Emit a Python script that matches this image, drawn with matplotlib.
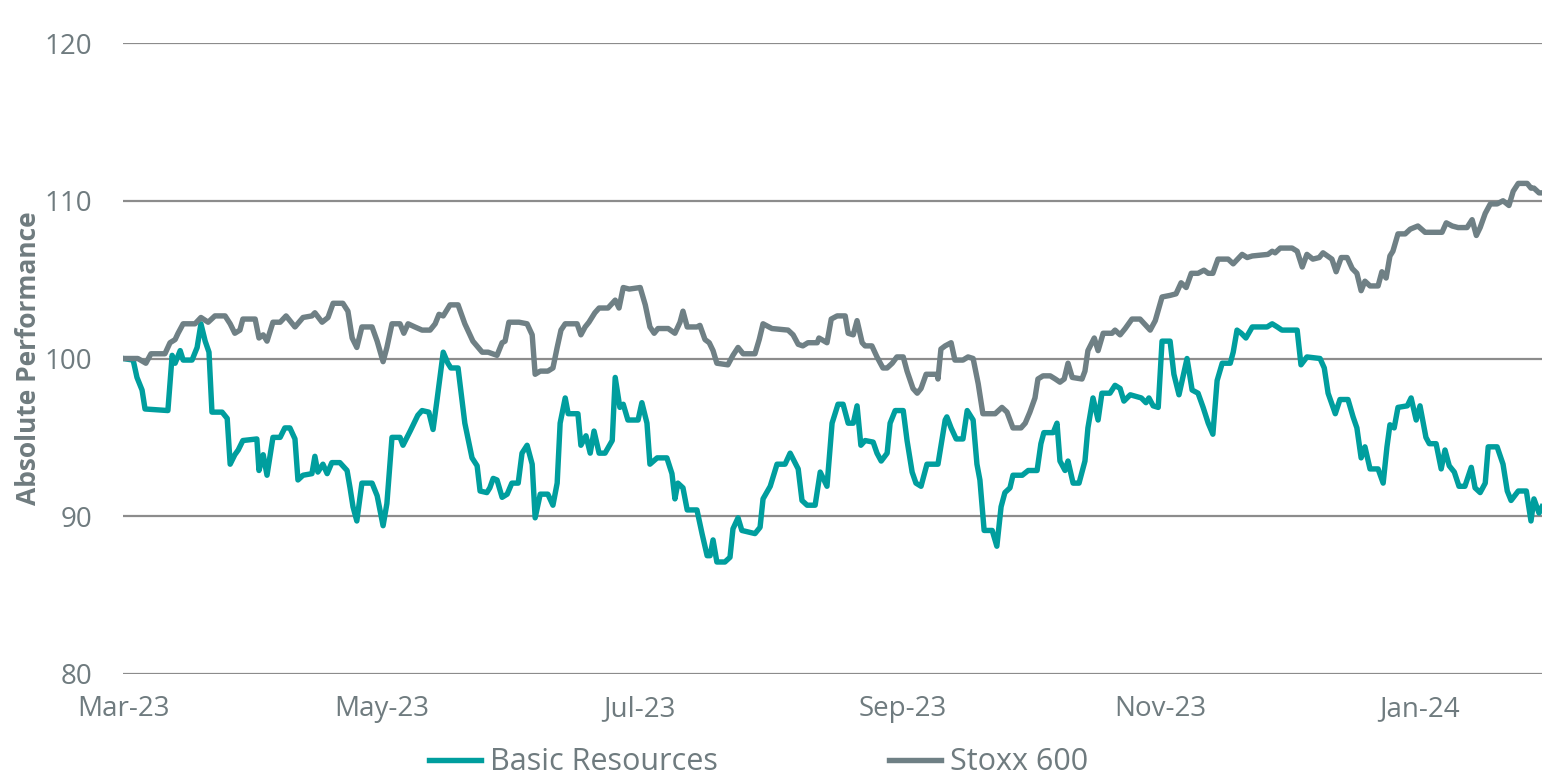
"""Basic Resources vs Stoxx 600, absolute performance (rebased to 100)."""

import pandas as pd
import matplotlib.pyplot as plt
import matplotlib.dates as mdates

START = pd.Timestamp("2023-03-01")

# days after START
basic_days = [
    0, 2.4, 3.3, 4.5, 5.2, 10.6, 11.6, 12.3, 13.5, 14.2, 16.3, 17.5, 18.4, 19.4,
    20.3, 21.0, 23.4, 24.6, 25.3, 26.4, 27.2, 28.3, 31.6, 32.1, 33.1, 34.0, 35.4,
    37.1, 38.2, 39.4, 40.6, 41.3, 42.5, 44.6, 45.3, 46.0, 47.2, 48.2, 49.3, 51.2,
    52.9, 53.6, 54.3, 55.2, 56.4, 58.8, 60.0, 61.4, 62.3, 63.5, 65.4, 66.1, 67.8,
    69.6, 70.6, 72.2, 73.2, 74.1, 75.6, 76.7, 77.4, 79.1, 80.7, 82.4, 83.6, 84.3,
    85.9, 86.6, 87.4, 88.3, 89.5, 90.7, 91.8, 93.3, 94.2, 95.4, 96.6, 97.3, 98.5,
    100.3, 101.5, 102.5, 103.2, 104.4, 105.1, 107.4, 108.1, 109.3, 110.3, 111.2,
    112.4, 113.8, 115.5, 116.2, 117.3, 118.1, 119.2, 121.6, 122.5, 123.7, 124.4,
    126.1, 128.4, 129.6, 130.3, 131.0, 132.2, 133.2, 135.5, 136.7, 137.9, 138.6,
    139.3, 140.2, 142.1, 143.3, 144.0, 145.2, 146.1, 149.2, 150.4, 151.1, 152.8,
    154.4, 156.3, 157.5, 159.4, 160.3, 161.5, 163.4, 164.6, 166.2, 167.4, 168.8,
    170.0, 171.2, 172.4, 173.3, 174.2, 175.2, 177.1, 178.0, 179.0, 180.4, 181.1,
    182.3, 184.2, 185.1, 186.3, 187.2, 188.4, 189.8, 192.4, 194.1, 194.5, 195.5,
    196.7, 198.3, 199.3, 200.7, 201.6, 202.3, 203.3, 205.2, 206.3, 207.3, 208.2,
    209.4, 210.1, 212.3, 213.7, 215.8, 216.7, 217.4, 219.6, 220.5, 221.2, 222.4,
    223.1, 224.3, 225.7, 227.1, 227.8, 229.0, 230.2, 231.1, 233.0, 234.2, 235.4,
    236.3, 237.8, 240.4, 241.5, 242.2, 243.2, 244.4, 245.3, 247.2, 248.1, 249.3,
    251.2, 252.4, 253.8, 255.0, 256.2, 257.3, 258.3, 259.5, 261.4, 262.1, 263.0,
    264.0, 265.1, 266.6, 270.1, 271.3, 272.5, 273.6, 277.2, 278.1, 279.5, 282.6,
    283.6, 284.5, 286.2, 287.3, 289.2, 290.4, 291.3, 292.3, 293.2, 294.4, 296.3,
    297.5, 298.4, 299.1, 300.1, 301.0, 303.2, 304.1, 305.3, 306.2, 307.6, 308.4,
    310.0, 311.2, 312.1, 313.1, 314.3, 315.4, 316.8, 318.3, 319.2, 320.4, 321.6,
    322.3, 324.4, 325.8, 326.8, 327.7, 329.4, 331.3, 332.4, 333.1, 334.3, 335.0,
]
basic_vals = [
    100.0, 99.9, 98.8, 98.0, 96.8, 96.7, 100.2, 99.7, 100.5, 99.9, 99.9, 100.7,
    102.2, 101.1, 100.4, 96.6, 96.6, 96.2, 93.3, 93.9, 94.2, 94.8, 94.9, 92.9,
    93.9, 92.6, 95.0, 95.0, 95.6, 95.6, 94.9, 92.3, 92.6, 92.7, 93.8, 92.8, 93.3,
    92.7, 93.4, 93.4, 92.9, 91.8, 90.6, 89.7, 92.1, 92.1, 91.3, 89.4, 90.8, 95.0,
    95.0, 94.5, 95.4, 96.4, 96.7, 96.6, 95.5, 97.3, 100.4, 99.7, 99.4, 99.4, 95.9,
    93.7, 93.2, 91.6, 91.5, 91.8, 92.4, 92.3, 91.2, 91.4, 92.1, 92.1, 94.0, 94.5,
    93.3, 89.9, 91.4, 91.4, 90.7, 92.1, 95.9, 97.5, 96.5, 96.5, 94.5, 95.1, 94.0,
    95.4, 94.0, 94.0, 94.8, 98.8, 96.9, 97.1, 96.1, 96.1, 97.2, 95.9, 93.3, 93.7,
    93.7, 92.7, 91.1, 92.1, 91.8, 90.4, 90.4, 88.9, 87.5, 87.5, 88.5, 87.1, 87.1,
    87.4, 89.2, 89.9, 89.1, 88.9, 89.3, 91.1, 91.9, 93.3, 93.3, 94.0, 93.0, 91.0,
    90.7, 90.7, 92.8, 91.9, 95.9, 97.1, 97.1, 95.9, 95.9, 97.0, 94.5, 94.8, 94.7,
    94.0, 93.5, 94.0, 95.9, 96.7, 96.7, 94.8, 92.8, 92.1, 91.9, 93.3, 93.3, 96.1,
    96.3, 95.6, 94.9, 94.9, 96.7, 96.1, 93.3, 92.3, 89.1, 89.1, 88.1, 90.6, 91.5,
    91.8, 92.6, 92.6, 92.9, 92.9, 94.6, 95.3, 95.3, 95.9, 93.5, 92.9, 93.5, 92.1,
    92.1, 93.5, 95.6, 97.5, 96.1, 97.8, 97.8, 98.3, 98.1, 97.3, 97.7, 97.5, 97.2,
    97.5, 97.0, 96.9, 101.1, 101.1, 99.0, 97.7, 100.0, 98.0, 97.8, 96.9, 95.9,
    95.2, 98.6, 99.7, 99.7, 100.4, 101.8, 101.6, 101.3, 102.0, 102.0, 102.2, 102.0,
    101.8, 101.8, 99.6, 100.1, 100.0, 99.4, 97.8, 96.5, 97.4, 97.4, 96.3, 95.6,
    93.7, 94.4, 93.0, 93.0, 92.1, 94.4, 95.8, 95.6, 96.9, 97.0, 97.5, 96.1, 97.0,
    95.0, 94.6, 94.6, 93.0, 94.2, 93.2, 92.8, 91.9, 91.9, 93.1, 91.8, 91.5, 92.1,
    94.4, 94.4, 93.3, 91.6, 91.0, 91.6, 91.6, 89.7, 91.1, 90.2, 90.6,
]

stoxx_days = [
    0, 3.5, 5.4, 6.6, 9.9, 11.1, 12.3, 13.0, 14.2, 17.0, 18.4, 20.1, 21.7, 24.1,
    25.3, 26.4, 27.6, 28.3, 31.2, 32.1, 33.1, 34.0, 35.4, 37.1, 38.5, 40.6, 42.5,
    44.6, 45.3, 47.0, 48.4, 49.6, 51.9, 53.1, 54.1, 55.2, 56.4, 58.8, 60.0, 61.4,
    62.3, 63.5, 65.4, 66.3, 67.3, 68.9, 70.6, 72.5, 73.7, 74.6, 75.6, 77.2, 79.1,
    80.7, 82.6, 84.8, 86.2, 88.3, 89.5, 90.2, 91.1, 93.5, 95.4, 96.6, 97.3, 98.5,
    100.3, 101.5, 102.5, 103.4, 104.4, 107.2, 108.1, 109.1, 110.0, 111.4, 112.4,
    114.5, 116.2, 117.1, 118.1, 119.5, 122.1, 123.3, 124.4, 125.4, 126.3, 128.7,
    130.3, 131.5, 132.2, 133.2, 135.5, 136.2, 137.4, 138.4, 139.3, 140.2, 142.8,
    144.0, 145.2, 146.4, 149.2, 150.2, 151.1, 153.2, 157.0, 158.2, 159.4, 160.5,
    161.7, 163.9, 164.3, 166.2, 167.2, 168.6, 170.5, 171.2, 172.4, 173.3, 174.5,
    175.2, 176.8, 178.0, 179.4, 180.4, 181.6, 182.7, 184.2, 185.1, 186.5, 187.5,
    188.4, 189.6, 192.2, 192.4, 193.1, 194.1, 195.5, 196.4, 198.3, 199.5, 200.7,
    201.9, 203.0, 205.9, 207.5, 208.7, 210.1, 212.0, 213.0, 214.1, 215.3, 216.0,
    217.2, 218.9, 220.1, 221.2, 222.2, 223.1, 224.1, 226.4, 227.1, 227.8, 229.3,
    230.2, 231.4, 233.5, 234.2, 235.4, 236.6, 238.2, 240.1, 242.5, 243.7, 245.3,
    247.2, 248.6, 249.8, 251.0, 252.2, 253.8, 255.2, 256.2, 257.3, 258.5, 260.9,
    262.1, 264.2, 265.4, 266.6, 270.3, 271.3, 272.0, 273.2, 276.0, 277.2, 278.4,
    279.5, 280.9, 282.4, 283.3, 285.4, 286.4, 287.6, 289.0, 290.2, 291.3, 292.3,
    293.2, 294.4, 296.3, 297.2, 298.2, 299.1, 299.8, 301.0, 302.7, 303.9, 305.7,
    307.4, 311.4, 312.4, 313.8, 315.2, 317.3, 318.5, 319.5, 320.4, 321.6, 322.8,
    324.4, 325.8, 327.2, 328.2, 329.4, 331.5, 332.4, 333.1, 334.3, 335.0,
]
stoxx_vals = [
    100.0, 100.0, 99.7, 100.3, 100.3, 101.0, 101.2, 101.6, 102.2, 102.2, 102.6,
    102.3, 102.7, 102.7, 102.2, 101.6, 101.8, 102.5, 102.5, 101.3, 101.5, 101.1,
    102.3, 102.3, 102.7, 102.0, 102.6, 102.7, 102.9, 102.3, 102.6, 103.5, 103.5,
    103.0, 101.3, 100.7, 102.0, 102.0, 101.1, 99.8, 100.7, 102.2, 102.2, 101.6,
    102.2, 102.0, 101.8, 101.8, 102.2, 102.8, 102.7, 103.4, 103.4, 102.2, 101.1,
    100.4, 100.4, 100.2, 101.0, 101.1, 102.3, 102.3, 102.2, 101.5, 99.0, 99.2,
    99.2, 99.4, 100.7, 101.8, 102.2, 102.2, 101.5, 102.0, 102.3, 102.9, 103.2,
    103.2, 103.7, 103.2, 104.5, 104.4, 104.5, 103.4, 102.0, 101.6, 101.9, 101.9,
    101.6, 102.3, 103.0, 102.0, 102.0, 102.1, 101.2, 101.0, 100.5, 99.7, 99.6,
    100.2, 100.7, 100.3, 100.3, 101.2, 102.2, 101.9, 101.8, 101.5, 100.9, 100.8,
    101.0, 101.0, 101.3, 101.0, 102.5, 102.7, 102.7, 101.6, 101.5, 102.4, 101.0,
    100.8, 100.8, 100.1, 99.4, 99.4, 99.7, 100.1, 100.1, 99.2, 98.1, 97.8, 98.1,
    99.0, 99.0, 98.7, 100.6, 100.8, 101.0, 99.9, 99.9, 100.1, 100.0, 98.4, 96.5,
    96.5, 96.9, 96.6, 95.6, 95.6, 95.9, 96.6, 97.5, 98.7, 98.9, 98.9, 98.7, 98.5,
    98.7, 99.7, 98.8, 98.7, 99.2, 100.5, 101.3, 100.5, 101.6, 101.6, 101.8, 101.5,
    101.9, 102.5, 102.5, 101.8, 102.4, 103.9, 104.0, 104.1, 104.8, 104.5, 105.4,
    105.4, 105.6, 105.4, 105.4, 106.3, 106.3, 106.0, 106.6, 106.4, 106.5, 106.6,
    106.8, 106.7, 107.0, 107.0, 106.8, 105.8, 106.6, 106.3, 106.4, 106.7, 106.3,
    105.5, 106.4, 106.4, 105.7, 105.4, 104.3, 104.9, 104.6, 104.6, 105.5, 105.1,
    106.5, 106.8, 107.9, 107.9, 108.2, 108.4, 108.0, 108.0, 108.6, 108.4, 108.3,
    108.3, 108.8, 107.8, 108.3, 109.2, 109.8, 109.8, 110.0, 109.7, 110.6, 111.1,
    111.1, 110.8, 110.8, 110.5, 110.5,
]

y_ticks = [80, 90, 100, 110, 120]
x_ticks = ["2023-03-01", "2023-05-01", "2023-07-01", "2023-09-01",
           "2023-11-01", "2024-01-01"]

TEAL = "#009e9e"
GREY = "#6f8085"
TEXT = "#6f7b7f"
GRID = "#8c8c8c"

plt.rcParams["font.family"] = ["Open Sans", "DejaVu Sans"]


def to_dates(days):
    return START + pd.to_timedelta(days, unit="D")


def main():
    fig = plt.figure(figsize=(15.42, 7.81), dpi=100)
    ax = fig.add_axes([123 / 1542, 1 - 674 / 781, 1 - 123 / 1542, (674 - 43) / 781])

    ax.plot(to_dates(basic_days), basic_vals, color=TEAL, lw=3.9,
            solid_joinstyle="round", label="Basic Resources")
    ax.plot(to_dates(stoxx_days), stoxx_vals, color=GREY, lw=3.9,
            solid_joinstyle="round", label="Stoxx 600")

    ax.set_ylim(80, 120)
    ax.set_yticks(y_ticks)
    ax.set_xlim(START, to_dates([335.0])[0])
    ax.set_xticks(pd.to_datetime(x_ticks))
    ax.xaxis.set_major_formatter(mdates.DateFormatter("%b-%y"))

    ax.grid(axis="y", color=GRID, lw=1.6)
    ax.set_axisbelow(True)
    for side in ax.spines.values():
        side.set_visible(False)
    ax.tick_params(length=0, labelsize=20, labelcolor=TEXT)
    ax.tick_params(axis="y", pad=22)
    ax.tick_params(axis="x", pad=15)

    ax.set_ylabel("Absolute Performance", fontsize=19, fontweight="bold",
                  color=TEXT)
    ax.yaxis.set_label_coords(-0.057, 0.5)

    fig.legend(loc="center", bbox_to_anchor=(0.492, 0.024), ncol=2,
               frameon=False, fontsize=22, labelcolor=TEXT,
               handlelength=1.7, handletextpad=0.3, columnspacing=5.6,
               borderpad=0.0)

    fig.savefig("out.png", dpi=100)


if __name__ == "__main__":
    main()
